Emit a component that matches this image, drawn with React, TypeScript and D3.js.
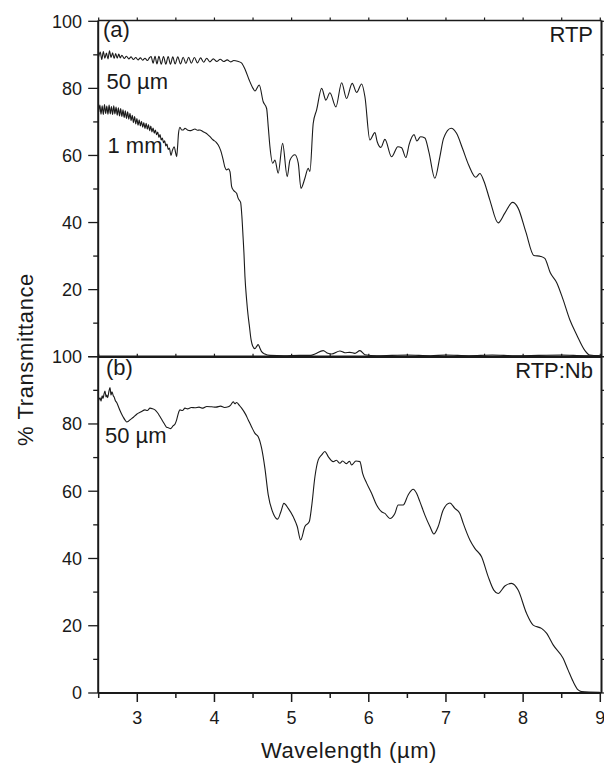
import React from "react";
import * as d3 from "d3";

// ---- data (wavelength µm, % transmittance) ----
const rtp50: [number, number][] = [
  [2.5, 89.5], [2.52, 90.8], [2.54, 88.6], [2.56, 91.0], [2.58, 89.0], [2.6, 90.5], [2.62, 88.8], [2.64, 91.2],
  [2.66, 89.2], [2.68, 90.6], [2.7, 88.9], [2.72, 90.4], [2.74, 89.0], [2.76, 90.2], [2.78, 89.1], [2.8, 89.9],
  [2.83, 88.9], [2.86, 89.6], [2.89, 88.8], [2.92, 89.4], [2.95, 88.6], [2.98, 89.2], [3.01, 88.5], [3.04, 89.1],
  [3.07, 88.4], [3.1, 89.0], [3.13, 88.3], [3.16, 89.2], [3.18, 89.5], [3.205, 87.5], [3.23, 89.6], [3.255, 87.3],
  [3.28, 89.6], [3.31, 87.2], [3.34, 89.5], [3.37, 87.2], [3.4, 89.5], [3.43, 87.2], [3.46, 89.4], [3.49, 87.3],
  [3.525, 89.4], [3.56, 87.3], [3.595, 89.3], [3.63, 87.4], [3.665, 89.3], [3.7, 87.5], [3.74, 89.2], [3.78, 87.6],
  [3.82, 89.1], [3.86, 87.8], [3.9, 89.0], [3.94, 87.9], [3.985, 88.8], [4.03, 88.0], [4.075, 88.7], [4.12, 88.0],
  [4.165, 88.5], [4.21, 87.9], [4.25, 88.3], [4.3, 88.1], [4.35, 87.6], [4.4, 85.5], [4.45, 82.5], [4.5, 80.0],
  [4.525, 79.2], [4.58, 81.0], [4.632, 76.0], [4.676, 74.0], [4.697, 68.6], [4.719, 62.6], [4.754, 57.7],
  [4.784, 58.6], [4.826, 54.7], [4.883, 63.6], [4.943, 53.7], [4.978, 58.6], [5.043, 60.2], [5.086, 57.7],
  [5.121, 50.2], [5.172, 53.2], [5.215, 56.2], [5.237, 55.2], [5.28, 69.6], [5.324, 73.6], [5.389, 80.0],
  [5.444, 76.5], [5.496, 78.7], [5.574, 74.5], [5.648, 81.7], [5.712, 77.0], [5.785, 81.5], [5.842, 78.8],
  [5.907, 81.3], [5.95, 77.5], [6.014, 64.6], [6.079, 66.8], [6.109, 64.1], [6.157, 62.4], [6.209, 64.8],
  [6.295, 59.6], [6.377, 62.6], [6.425, 62.3], [6.481, 59.4], [6.523, 63.3], [6.587, 66.2], [6.623, 64.3],
  [6.671, 65.6], [6.727, 65.2], [6.779, 61.0], [6.856, 53.2], [6.921, 59.6], [6.969, 65.1], [7.067, 68.1],
  [7.137, 66.6], [7.216, 62.0], [7.297, 57.0], [7.387, 53.5], [7.439, 54.6], [7.491, 52.4], [7.569, 46.7],
  [7.676, 39.9], [7.763, 42.8], [7.863, 46.0], [7.935, 44.3], [8.035, 37.2], [8.138, 30.2], [8.229, 29.9],
  [8.281, 29.3], [8.352, 25.0], [8.437, 22.0], [8.518, 17.0], [8.605, 11.0], [8.695, 6.5], [8.799, 1.9],
  [8.864, 0.5], [8.993, 0.3],
];

const rtp1mm: [number, number][] = [
  [2.5, 73.0], [2.515, 75.0], [2.53, 72.3], [2.545, 74.8], [2.56, 72.2], [2.575, 75.2], [2.59, 72.5], [2.605, 74.7],
  [2.62, 72.3], [2.635, 75.0], [2.65, 72.4], [2.665, 74.6], [2.68, 72.2], [2.695, 74.8], [2.71, 72.4], [2.725, 74.4],
  [2.74, 72.0], [2.755, 74.2], [2.77, 71.8], [2.785, 74.0], [2.8, 71.6], [2.815, 73.6], [2.83, 71.3], [2.845, 73.3],
  [2.86, 71.0], [2.875, 73.0], [2.89, 70.8], [2.905, 72.6], [2.92, 70.4], [2.935, 72.0], [2.95, 69.8], [2.965, 71.6],
  [2.98, 69.4], [2.995, 71.0], [3.01, 69.0], [3.025, 70.6], [3.04, 68.8], [3.055, 70.2], [3.07, 68.4], [3.085, 69.8],
  [3.1, 68.0], [3.115, 69.6], [3.13, 67.8], [3.145, 69.2], [3.16, 67.4], [3.175, 68.8], [3.19, 67.0], [3.205, 68.2],
  [3.22, 66.6], [3.235, 67.6], [3.25, 66.2], [3.265, 67.0], [3.28, 65.4], [3.295, 66.2], [3.31, 64.6], [3.325, 65.2],
  [3.34, 63.8], [3.355, 64.4], [3.37, 62.8], [3.385, 63.4], [3.4, 61.8], [3.415, 62.2], [3.437, 60.0], [3.455, 61.5],
  [3.479, 62.6], [3.495, 61.0], [3.51, 59.6], [3.522, 62.5], [3.534, 66.5], [3.553, 68.4], [3.575, 67.6],
  [3.596, 67.6], [3.618, 68.1], [3.65, 67.6], [3.683, 67.4], [3.715, 67.6], [3.747, 67.9], [3.78, 67.5],
  [3.812, 67.6], [3.845, 67.2], [3.877, 66.8], [3.91, 66.3], [3.942, 65.6], [3.984, 64.6], [4.02, 64.0],
  [4.049, 63.1], [4.08, 61.5], [4.114, 58.6], [4.135, 56.5], [4.158, 55.7], [4.18, 56.0], [4.201, 55.2],
  [4.223, 50.7], [4.244, 49.7], [4.265, 49.2], [4.287, 48.7], [4.308, 47.2], [4.339, 46.0], [4.355, 42.0],
  [4.37, 36.0], [4.382, 31.0], [4.395, 24.0], [4.417, 16.9], [4.435, 12.5], [4.451, 9.5], [4.475, 5.0],
  [4.495, 3.2], [4.525, 2.4], [4.545, 3.0], [4.567, 3.6], [4.59, 2.5], [4.611, 1.5], [4.654, 0.8], [4.72, 0.4],
  [4.9, 0.3], [5.1, 0.4], [5.25, 0.4], [5.302, 0.8], [5.409, 1.8], [5.47, 1.0], [5.518, 0.8], [5.626, 1.7],
  [5.69, 1.2], [5.755, 1.3], [5.82, 1.0], [5.885, 1.8], [5.95, 0.6], [6.1, 0.3], [6.3, 0.4], [6.5, 0.5],
  [6.8, 0.3], [7.0, 0.5], [7.3, 0.3], [7.6, 0.5], [7.9, 0.3], [8.2, 0.4], [8.5, 0.5], [8.8, 0.3], [8.993, 0.3],
];

const rtpNb50: [number, number][] = [
  [2.5, 87.0], [2.517, 87.8], [2.53, 86.8], [2.545, 88.4], [2.556, 87.6], [2.57, 89.0], [2.582, 89.8], [2.595, 88.0],
  [2.605, 88.6], [2.617, 87.8], [2.63, 89.4], [2.646, 90.8], [2.66, 88.6], [2.672, 89.6], [2.689, 88.4], [2.7, 88.0],
  [2.715, 87.0], [2.733, 86.4], [2.755, 85.2], [2.776, 84.0], [2.8, 82.8], [2.819, 82.0], [2.84, 81.2], [2.863, 80.6],
  [2.885, 80.8], [2.905, 81.2], [2.95, 82.0], [2.992, 82.9], [3.05, 83.6], [3.1, 84.2], [3.13, 84.0], [3.165, 84.7],
  [3.2, 84.5], [3.229, 84.2], [3.26, 83.4], [3.294, 82.2], [3.33, 80.8], [3.359, 79.7], [3.38, 79.0], [3.402, 78.9],
  [3.43, 78.6], [3.466, 79.5], [3.49, 80.0], [3.51, 81.2], [3.53, 83.0], [3.553, 84.2], [3.585, 84.0], [3.618, 84.7],
  [3.65, 84.5], [3.7, 84.9], [3.747, 84.8], [3.8, 85.0], [3.85, 84.7], [3.9, 85.2], [3.964, 85.1], [4.02, 85.0],
  [4.08, 85.3], [4.13, 84.9], [4.179, 85.1], [4.21, 85.6], [4.244, 86.6], [4.265, 86.0], [4.287, 86.4], [4.32, 85.6],
  [4.352, 84.7], [4.4, 83.0], [4.438, 81.2], [4.48, 79.2], [4.525, 77.2], [4.567, 76.2], [4.611, 72.8],
  [4.654, 66.8], [4.697, 58.9], [4.762, 53.4], [4.819, 51.7], [4.861, 53.9], [4.9, 56.4], [4.956, 54.9],
  [5.021, 52.4], [5.073, 49.5], [5.117, 45.5], [5.172, 49.5], [5.228, 50.9], [5.259, 55.4], [5.302, 64.3],
  [5.345, 69.3], [5.389, 70.8], [5.431, 71.8], [5.474, 70.3], [5.539, 68.8], [5.58, 69.2], [5.626, 68.3],
  [5.66, 69.0], [5.712, 68.2], [5.75, 68.9], [5.777, 67.8], [5.833, 69.0], [5.885, 68.8], [5.92, 65.3],
  [5.972, 62.4], [6.036, 59.4], [6.101, 55.9], [6.166, 53.9], [6.209, 53.4], [6.273, 51.9], [6.338, 53.4],
  [6.381, 55.9], [6.446, 55.9], [6.51, 58.9], [6.575, 60.6], [6.619, 59.4], [6.662, 56.9], [6.727, 52.9],
  [6.792, 49.5], [6.843, 47.3], [6.899, 49.5], [6.964, 54.4], [7.051, 56.5], [7.115, 54.9], [7.18, 53.4],
  [7.223, 50.5], [7.31, 45.5], [7.374, 43.0], [7.461, 40.5], [7.547, 34.6], [7.62, 30.6], [7.676, 29.6],
  [7.763, 31.8], [7.85, 32.6], [7.935, 30.6], [8.044, 23.7], [8.13, 20.2], [8.238, 19.2], [8.303, 17.8],
  [8.389, 14.3], [8.518, 10.3], [8.583, 6.8], [8.648, 3.4], [8.713, 0.9], [8.757, 0.4], [8.993, 0.2],
];

const xMajorTicks = [3, 4, 5, 6, 7, 8, 9];
const xMinorTicks = [2.5, 3.5, 4.5, 5.5, 6.5, 7.5, 8.5];
const yLabelsTop = [20, 40, 60, 80, 100];
const yLabelsBottom = [0, 20, 40, 60, 80, 100];
const yAllTicks = [0, 10, 20, 30, 40, 50, 60, 70, 80, 90, 100];

const W = 604;
const H = 769;
const FONT = "'Liberation Sans', Arial, Helvetica, sans-serif";
const INK = "#1a1a1a";

export default function App() {
  const x = d3.scaleLinear().domain([2.5, 9]).range([98.7, 600.3]);
  const yTop = d3.scaleLinear().domain([0, 100]).range([356.7, 21.3]);
  const yBot = d3.scaleLinear().domain([0, 100]).range([693, 356.7]);
  const left = 98.2;
  const right = 601.5;
  const top = 20.5;
  const mid = yTop(0);
  const bottom = yBot(0);

  const lineTop = d3
    .line<[number, number]>()
    .x((d) => x(d[0]))
    .y((d) => yTop(d[1]))
    .curve(d3.curveMonotoneX);
  const lineBot = d3
    .line<[number, number]>()
    .x((d) => x(d[0]))
    .y((d) => yBot(d[1]))
    .curve(d3.curveMonotoneX);

  const leftTicks = (y: d3.ScaleLinear<number, number>, key: string) =>
    yAllTicks.map((v) => (
      <line
        key={key + v}
        x1={left - (v % 20 === 0 ? 10 : 5)}
        x2={left}
        y1={y(v)}
        y2={y(v)}
        stroke={INK}
        strokeWidth={1.3}
      />
    ));
  const rightTicks = (y: d3.ScaleLinear<number, number>, key: string) =>
    yAllTicks.map((v) => (
      <line key={key + v} x1={right} x2={right + 5} y1={y(v)} y2={y(v)} stroke={INK} strokeWidth={1.2} />
    ));

  return (
    <svg
      width={W}
      height={H}
      viewBox={`0 0 ${W} ${H}`}
      style={{ position: "absolute", left: 0, top: 0, background: "#fff" }}
    >
      <rect x={0} y={0} width={W} height={H} fill="#fff" />
      {/* data lines */}
      <path d={lineTop(rtp50) || ""} fill="none" stroke={INK} strokeWidth={1.1} />
      <path d={lineTop(rtp1mm) || ""} fill="none" stroke={INK} strokeWidth={1.1} />
      <path d={lineBot(rtpNb50) || ""} fill="none" stroke={INK} strokeWidth={1.1} />

      {/* frame */}
      <line x1={left} x2={left} y1={top} y2={bottom} stroke={INK} strokeWidth={2} />
      <line x1={right} x2={right} y1={top} y2={bottom} stroke={INK} strokeWidth={2} />
      <line x1={left} x2={right} y1={top} y2={top} stroke={INK} strokeWidth={1.6} />
      <line x1={left} x2={right} y1={mid} y2={mid} stroke={INK} strokeWidth={2.4} />
      <line x1={left} x2={right} y1={bottom} y2={bottom} stroke={INK} strokeWidth={2} />

      {/* left & right ticks */}
      {leftTicks(yTop, "lt")}
      {leftTicks(yBot, "lb")}
      {rightTicks(yTop, "rt")}
      {rightTicks(yBot, "rb")}

      {/* top / middle small ticks */}
      {xMinorTicks.concat(xMajorTicks).map((v) => (
        <g key={"tt" + v}>
          <line x1={x(v)} x2={x(v)} y1={top} y2={top - 3} stroke={INK} strokeWidth={1.2} />
          <line x1={x(v)} x2={x(v)} y1={mid} y2={mid - 3} stroke={INK} strokeWidth={1.2} />
        </g>
      ))}

      {/* bottom ticks */}
      {xMajorTicks.map((v) => (
        <line key={"bx" + v} x1={x(v)} x2={x(v)} y1={bottom} y2={bottom + 9} stroke={INK} strokeWidth={1.5} />
      ))}
      {xMinorTicks.map((v) => (
        <line key={"bm" + v} x1={x(v)} x2={x(v)} y1={bottom} y2={bottom + 5} stroke={INK} strokeWidth={1.5} />
      ))}

      {/* tick labels */}
      <g fontFamily={FONT} fontSize={18} fill={INK}>
        {yLabelsTop.map((v) => (
          <text key={"ylt" + v} x={82} y={yTop(v) + 6.3} textAnchor="end">
            {v}
          </text>
        ))}
        {yLabelsBottom.map((v) => (
          <text key={"ylb" + v} x={82} y={yBot(v) + 6.3} textAnchor="end">
            {v}
          </text>
        ))}
        {xMajorTicks.map((v) => (
          <text key={"xl" + v} x={x(v)} y={724} textAnchor="middle">
            {v}
          </text>
        ))}
      </g>

      {/* annotations */}
      <g fontFamily={FONT} fontSize={22} fill={INK}>
        <text x={103} y={37}>(a)</text>
        <text x={593} y={41.7} textAnchor="end">RTP</text>
        <text x={106.5} y={89.3}>50 µm</text>
        <text x={107.5} y={153}>1 mm</text>
        <text x={106} y={375}>(b)</text>
        <text x={593} y={378} textAnchor="end">RTP:Nb</text>
        <text x={105} y={443}>50 µm</text>
      </g>

      {/* axis titles */}
      <text
        x={349}
        y={758}
        textAnchor="middle"
        fontFamily={FONT}
        fontSize={22}
        letterSpacing={0.6}
        fill={INK}
      >
        Wavelength (µm)
      </text>
      <text
        transform={`translate(33, 359.5) rotate(-90)`}
        textAnchor="middle"
        fontFamily={FONT}
        fontSize={22}
        letterSpacing={0.6}
        fill={INK}
      >
        % Transmittance
      </text>
    </svg>
  );
}
